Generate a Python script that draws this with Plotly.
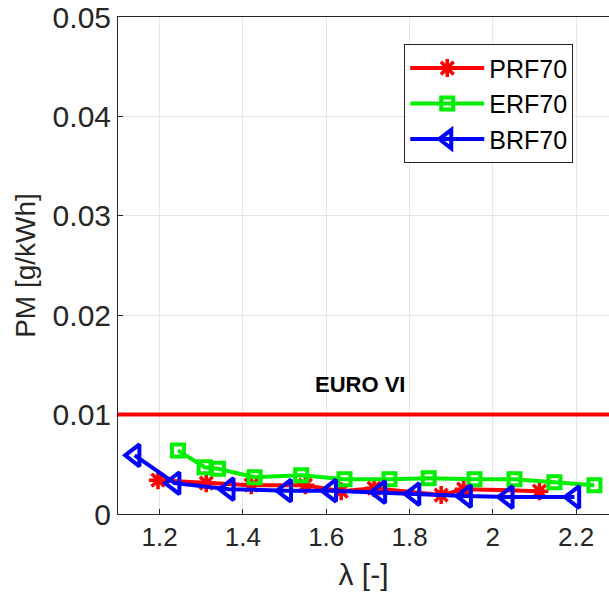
import plotly.graph_objects as go

# Data
prf70_lambda = [1.196, 1.312, 1.42, 1.55, 1.636, 1.715, 1.876, 1.93, 2.112]
prf70_pm = [0.0034, 0.0031, 0.0029, 0.0029, 0.0023, 0.0026, 0.0019, 0.0025, 0.0023]

erf70_lambda = [1.244, 1.308, 1.34, 1.428, 1.54, 1.644, 1.752, 1.846, 1.956, 2.052, 2.148, 2.244]
erf70_pm = [0.0064, 0.0047, 0.00455, 0.0037, 0.0039, 0.0035, 0.0035, 0.0036, 0.0035, 0.0035, 0.0032, 0.0029]

brf70_lambda = [1.14, 1.236, 1.366, 1.504, 1.612, 1.73, 1.812, 1.936, 2.036, 2.196]
brf70_pm = [0.0059, 0.0031, 0.0025, 0.00235, 0.00235, 0.0022, 0.002, 0.0018, 0.0017, 0.0017]

euro_vi_limit = 0.01
euro_label = "EURO VI"
x_ticks = [1.2, 1.4, 1.6, 1.8, 2.0, 2.2]
x_tick_text = ["1.2", "1.4", "1.6", "1.8", "2", "2.2"]
y_ticks = [0, 0.01, 0.02, 0.03, 0.04, 0.05]
y_tick_text = ["0", "0.01", "0.02", "0.03", "0.04", "0.05"]

FONT = "Liberation Sans, Arial, sans-serif"

fig = go.Figure()

fig.add_hline(y=euro_vi_limit, line=dict(color="#ff0000", width=4), layer="above")

fig.add_trace(go.Scatter(
    x=prf70_lambda, y=prf70_pm, name="PRF70", mode="lines+markers",
    line=dict(color="#ff0000", width=4),
    marker=dict(symbol="asterisk-open", size=15, color="#ff0000",
                line=dict(color="#ff0000", width=3.5)),
))
fig.add_trace(go.Scatter(
    x=erf70_lambda, y=erf70_pm, name="ERF70", mode="lines+markers",
    line=dict(color="#00ee00", width=4),
    marker=dict(symbol="square-open", size=12, color="#00ee00",
                line=dict(color="#00ee00", width=4)),
))
fig.add_trace(go.Scatter(
    x=brf70_lambda, y=brf70_pm, name="BRF70", mode="lines+markers",
    line=dict(color="#0000ff", width=4),
    marker=dict(symbol="triangle-left-open", size=19, color="#0000ff",
                line=dict(color="#0000ff", width=4)),
))

fig.add_annotation(x=1.68, y=0.013, text="<b>" + euro_label + "</b>",
                   showarrow=False, font=dict(family=FONT, size=22, color="#000000"))

fig.update_layout(
    width=609, height=606,
    margin=dict(l=118, r=0, t=17, b=92, autoexpand=False),
    paper_bgcolor="white", plot_bgcolor="white",
    font=dict(family=FONT, color="#262626"),
    showlegend=True,
    legend=dict(
        x=0.583, y=0.945, xanchor="left", yanchor="top",
        bgcolor="white", bordercolor="#262626", borderwidth=1,
        font=dict(family=FONT, size=25, color="#000000"),
        itemwidth=74, tracegroupgap=0,
    ),
    xaxis=dict(
        range=[1.1, 2.279], tickvals=x_ticks, ticktext=x_tick_text,
        showgrid=True, gridcolor="#e6e6e6", gridwidth=1,
        showline=True, linecolor="#262626", linewidth=1, mirror=True,
        ticks="inside", ticklen=5, tickcolor="#262626",
        automargin=False,
        tickfont=dict(family=FONT, size=26, color="#262626"),
        title=dict(text="λ [-]", font=dict(family=FONT, size=30, color="#262626"), standoff=12),
        zeroline=False,
    ),
    yaxis=dict(
        range=[0, 0.05], tickvals=y_ticks, ticktext=y_tick_text,
        showgrid=True, gridcolor="#e6e6e6", gridwidth=1,
        showline=True, linecolor="#262626", linewidth=1, mirror=True,
        ticks="inside", ticklen=5, tickcolor="#262626",
        ticklabeloverflow="allow", automargin=False,
        tickfont=dict(family=FONT, size=30, color="#262626"),
        title=dict(text="PM [g/kWh]", font=dict(family=FONT, size=28, color="#262626"), standoff=8),
        zeroline=False,
    ),
)

fig.write_html("out.html", config={"displayModeBar": False},
               post_script="document.body.style.margin='0';")
